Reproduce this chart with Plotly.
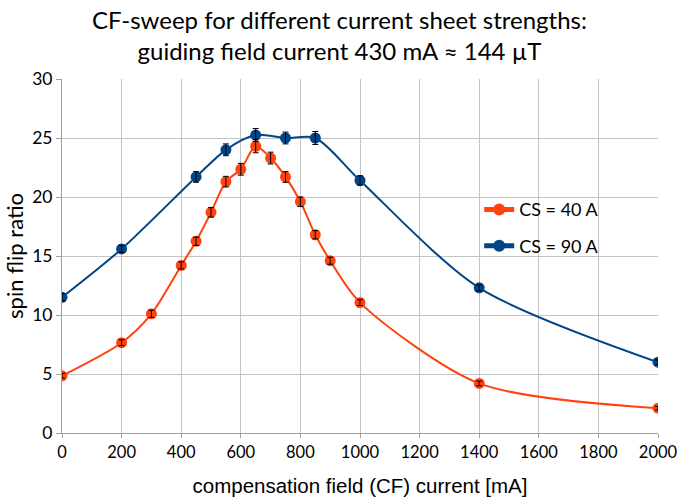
import plotly.graph_objects as go

x40 = [0, 200, 300, 400, 450, 500, 550, 600, 650, 700, 750, 800, 850, 900, 1000, 1400, 2000]
y40 = [4.85, 7.65, 10.1, 14.2, 16.25, 18.7, 21.3, 22.35, 24.3, 23.3, 21.7, 19.6, 16.8, 14.6, 11.05, 4.2, 2.1]
e40 = [0.2, 0.25, 0.3, 0.3, 0.35, 0.4, 0.45, 0.5, 0.55, 0.5, 0.45, 0.4, 0.35, 0.3, 0.25, 0.2, 0.15]

x90 = [0, 200, 450, 550, 650, 750, 850, 1000, 1400, 2000]
y90 = [11.5, 15.6, 21.7, 24.0, 25.25, 25.0, 25.0, 21.4, 12.3, 6.0]
e90 = [0.3, 0.3, 0.45, 0.5, 0.55, 0.5, 0.55, 0.4, 0.25, 0.2]

xticks = list(range(0, 2001, 200))
yticks = list(range(0, 31, 5))

FONT = "Lato"
AXFONT = "Liberation Sans"

fig = go.Figure()
series = [("CS = 40 A", x40, y40, e40, "#ff420e", "a"),
          ("CS = 90 A", x90, y90, e90, "#004586", "b")]
for name, xs, ys, es, col, grp in series:
    fig.add_trace(go.Scatter(
        x=xs, y=ys, name=name, mode="lines+markers", legendgroup=grp,
        line=dict(color=col, width=2, shape="spline", smoothing=0.8),
        marker=dict(color=col, size=11),
    ))
# error bars drawn on top of the markers
for name, xs, ys, es, col, grp in series:
    fig.add_trace(go.Scatter(
        x=xs, y=ys, mode="markers", showlegend=False, legendgroup=grp, hoverinfo="skip",
        marker=dict(color=col, size=11, opacity=0),
        error_y=dict(type="data", array=es, color="black", thickness=1, width=3),
    ))

fig.add_annotation(
    text="CF-sweep for different current sheet strengths:<br>guiding field current 430 mA ≈ 144 µT",
    xref="paper", yref="paper", x=(340 - 62) / 597, y=1.124, xanchor="center", yanchor="middle",
    showarrow=False, font=dict(family=FONT, size=24, color="black"),
)

fig.update_layout(
    width=678, height=500,
    margin=dict(l=62, r=20, t=79, b=67),
    paper_bgcolor="white", plot_bgcolor="white",
    font=dict(family=FONT, color="black", size=17),
    showlegend=True,
    legend=dict(x=0.70, y=0.683, xanchor="left", yanchor="top", bgcolor="rgba(0,0,0,0)",
                font=dict(family=FONT, size=18), itemsizing="constant", itemwidth=30,
                tracegroupgap=10, traceorder="grouped"),
    xaxis=dict(range=[0, 2000], tickvals=xticks, showgrid=True, gridcolor="#c4c4c4", gridwidth=1,
               showline=True, linecolor="#a0a0a0", ticks="outside", ticklen=4, tickcolor="#a0a0a0",
               zeroline=False, tickfont=dict(size=16.5), automargin=False, ticklabeloverflow="allow",
               title=dict(text="compensation field (CF) current [mA]",
                          font=dict(family=AXFONT, size=20.5), standoff=17)),
    yaxis=dict(range=[0, 30], tickvals=yticks, showgrid=True, gridcolor="#c4c4c4", gridwidth=1,
               showline=True, linecolor="#a0a0a0", ticks="outside", ticklen=5, tickcolor="#a0a0a0",
               zeroline=False, tickfont=dict(size=17.5), automargin=False, ticklabeloverflow="allow",
               title=dict(text="spin flip ratio", font=dict(family=FONT, size=22), standoff=2)),
)

fig.write_html("out.html")
